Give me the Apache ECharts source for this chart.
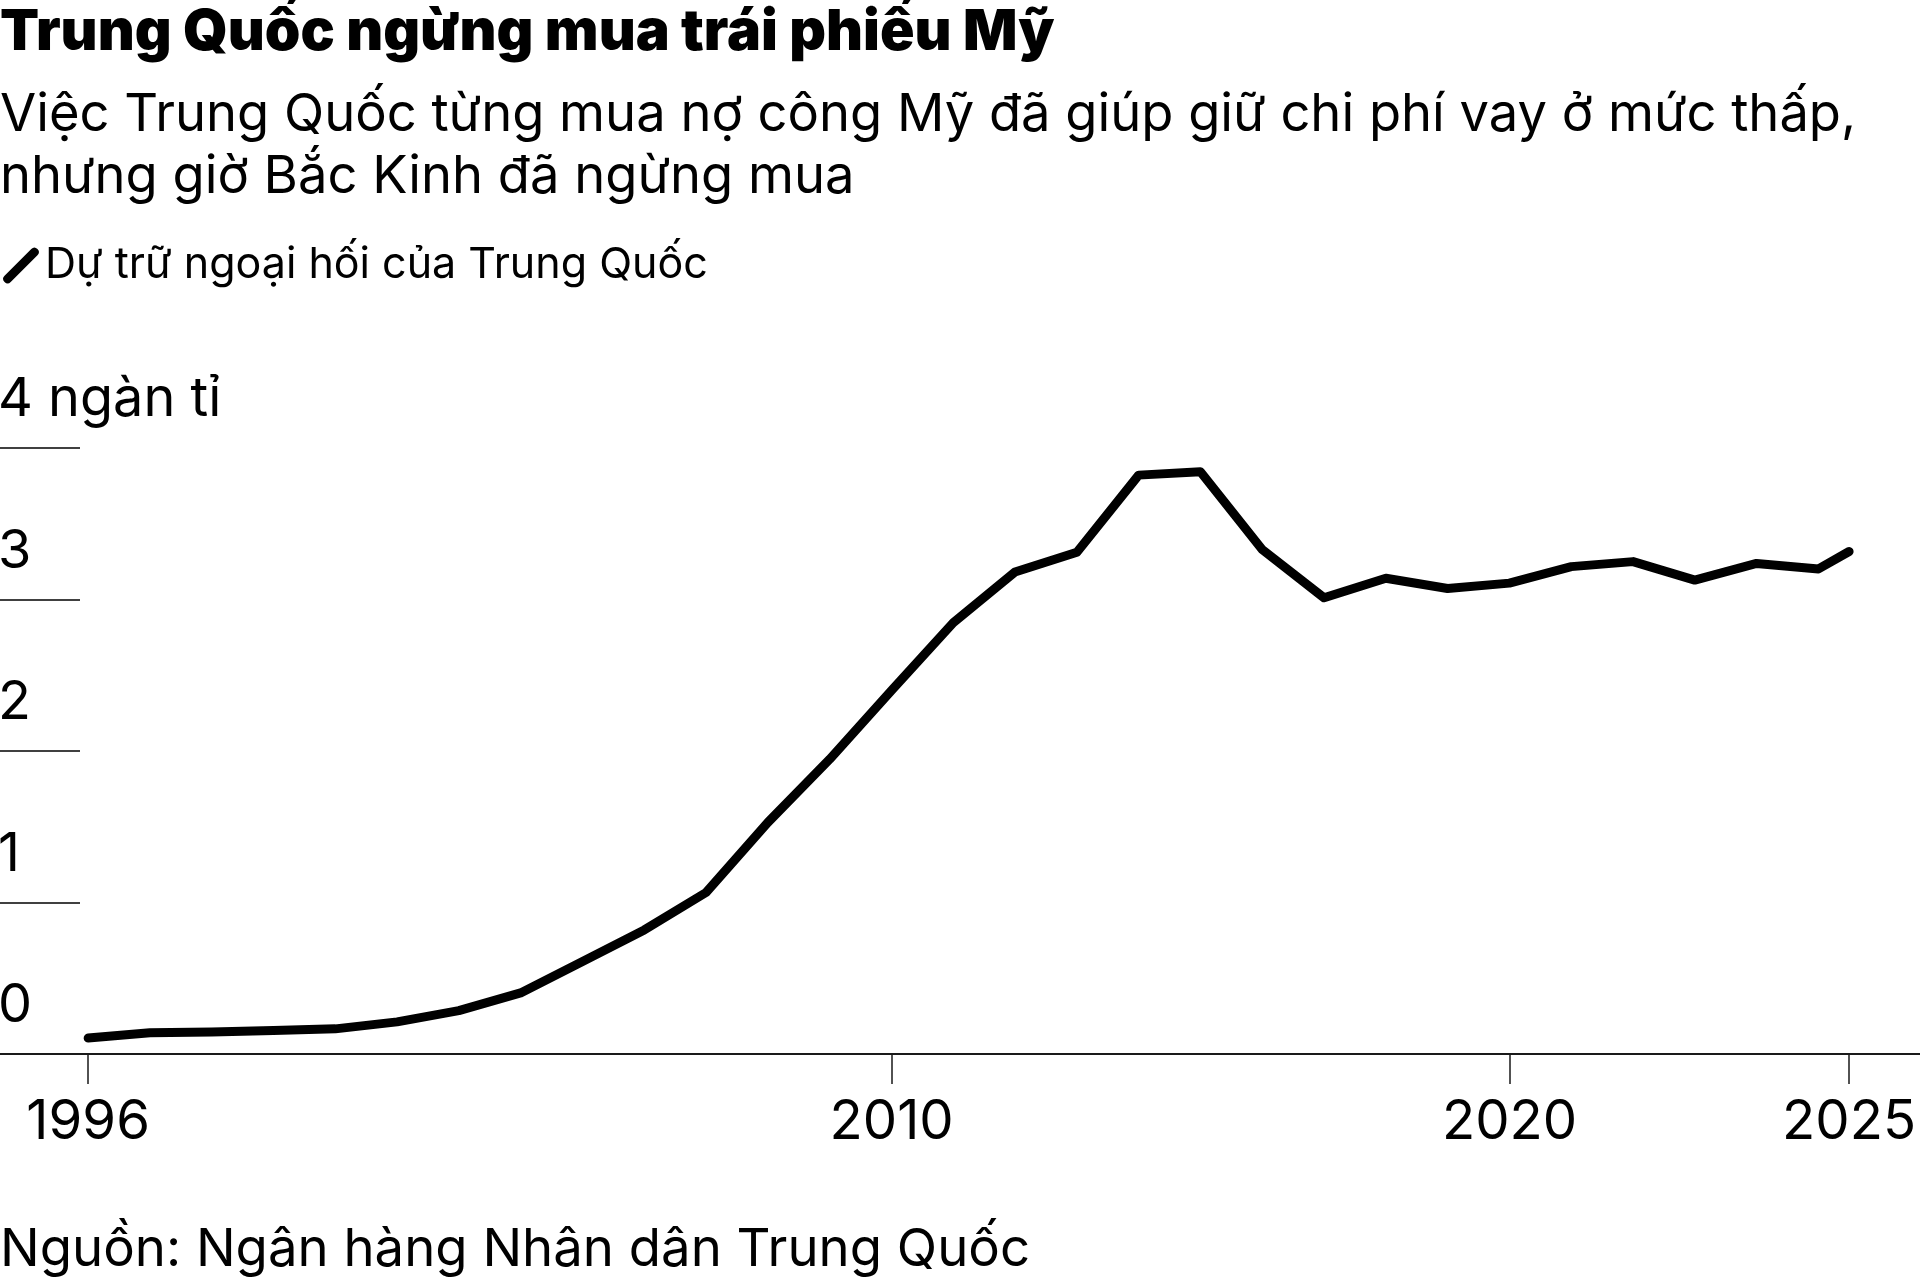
<!DOCTYPE html>
<html>
<head>
<meta charset="utf-8">
<script src="https://cdn.jsdelivr.net/npm/echarts@6/dist/echarts.min.js"></script>
<style>
html,body{margin:0;padding:0;background:#fff;}
#main{width:1920px;height:1288px;}
</style>
</head>
<body>
<div id="main"></div>
<script>
// ky so lieu: cuoi moi nam, rieng 2025 la giua nam
var periods = ['1996-12-31','1997-12-31','1998-12-31','1999-12-31','2000-12-31','2001-12-31','2002-12-31','2003-12-31','2004-12-31','2005-12-31',
  '2006-12-31','2007-12-31','2008-12-31','2009-12-31','2010-12-31','2011-12-31','2012-12-31','2013-12-31','2014-12-31','2015-12-31',
  '2016-12-31','2017-12-31','2018-12-31','2019-12-31','2020-12-31','2021-12-31','2022-12-31','2023-12-31','2024-12-31','2025-06-30'];
// du tru ngoai hoi, ngan ti USD
var reserves = [0.105,0.140,0.145,0.155,0.166,0.212,0.286,0.403,0.610,0.819,
  1.066,1.528,1.946,2.399,2.847,3.181,3.312,3.821,3.843,3.330,
  3.011,3.140,3.073,3.108,3.217,3.250,3.128,3.238,3.202,3.317];
var tickDates = ['1996-12-31','2010-01-01','2020-01-01','2025-06-30'];

var seriesName = 'Dự trữ ngoại hối của Trung Quốc';
var font = 'Inter';

var myChart = echarts.init(document.getElementById('main'));

function ts(d){ return echarts.time.parse(d).getTime(); }
var tickValues = tickDates.map(ts);

var option = {
  backgroundColor: '#fff',
  animation: false,
  title: [{
    text: 'Trung Quốc ngừng mua trái phiếu Mỹ',
    left: 0, top: 4, padding: 0,
    textStyle: {fontFamily: font, fontWeight: 900, fontSize: 57, lineHeight: 57, color: '#000'}
  }, {
    text: 'Việc Trung Quốc từng mua nợ công Mỹ đã giúp giữ chi phí vay ở mức thấp,\nnhưng giờ Bắc Kinh đã ngừng mua',
    left: 0, top: 84, padding: 0,
    textStyle: {fontFamily: font, fontWeight: 'normal', fontSize: 52.5, lineHeight: 62, color: '#000'}
  }, {
    text: 'Nguồn: Ngân hàng Nhân dân Trung Quốc',
    left: 0, top: 1224, padding: 0,
    textStyle: {fontFamily: font, fontWeight: 'normal', fontSize: 52.7, lineHeight: 52, color: '#000'}
  }],
  legend: {
    left: 3, top: 244, padding: 0,
    icon: 'path://M1,28 L27,2 Q30,-1 33,2 Q36,5 33,8 L7,34 Q4,37 1,34 Q-2,31 1,28 Z',
    itemWidth: 38, itemHeight: 36,
    itemStyle: {color: '#000'},
    textStyle: {fontFamily: font, fontSize: 43, color: '#000'},
    data: [seriesName]
  },
  grid: [
    {left: 0, right: 0, top: 448, bottom: 234, outerBoundsMode: 'none'},
    {left: 0, width: 80, top: 448, bottom: 234, outerBoundsMode: 'none'}
  ],
  xAxis: [{
    type: 'value',
    gridIndex: 0,
    min: ts('1995-07-29'),
    max: ts('2026-08-23'),
    splitLine: {show: false},
    axisLine: {lineStyle: {color: '#1a1a1a', width: 2}},
    axisTick: {show: true, length: 30, lineStyle: {color: '#1a1a1a', width: 1.5}, customValues: tickValues},
    axisLabel: {
      customValues: tickValues,
      margin: 42,
      fontFamily: font, fontSize: 54.5, lineHeight: 54, color: '#000',
      formatter: function(v){ return String(new Date(v).getFullYear()); }
    }
  }, {
    type: 'value', gridIndex: 1, min: 0, max: 1, show: false
  }],
  yAxis: [{
    type: 'value', gridIndex: 0, min: 0, max: 4, interval: 1,
    axisLine: {show: false}, axisTick: {show: false},
    axisLabel: {show: false}, splitLine: {show: false}
  }, {
    type: 'value', gridIndex: 1, min: 0, max: 4, interval: 1,
    axisLine: {show: false}, axisTick: {show: false},
    splitLine: {show: true, lineStyle: {color: '#000', width: 1.5}},
    axisLabel: {
      inside: true, margin: -2, align: 'left', verticalAlign: 'bottom',
      padding: [0, 0, 21, 0],
      fontFamily: font, fontSize: 54, lineHeight: 54, color: '#000',
      formatter: function(v){ return v === 4 ? '4 ngàn tỉ' : String(v); }
    }
  }],
  series: [{
    name: seriesName,
    type: 'line',
    xAxisIndex: 0, yAxisIndex: 0,
    showSymbol: false,
    symbol: 'none',
    lineStyle: {color: '#000', width: 9, cap: 'round', join: 'round'},
    itemStyle: {color: '#000'},
    data: periods.map(function(p, i){ return [ts(p), reserves[i]]; })
  }]
};

myChart.setOption(option);
window.addEventListener("resize",function(){
  myChart.resize();
});
</script>
</body>
</html>
